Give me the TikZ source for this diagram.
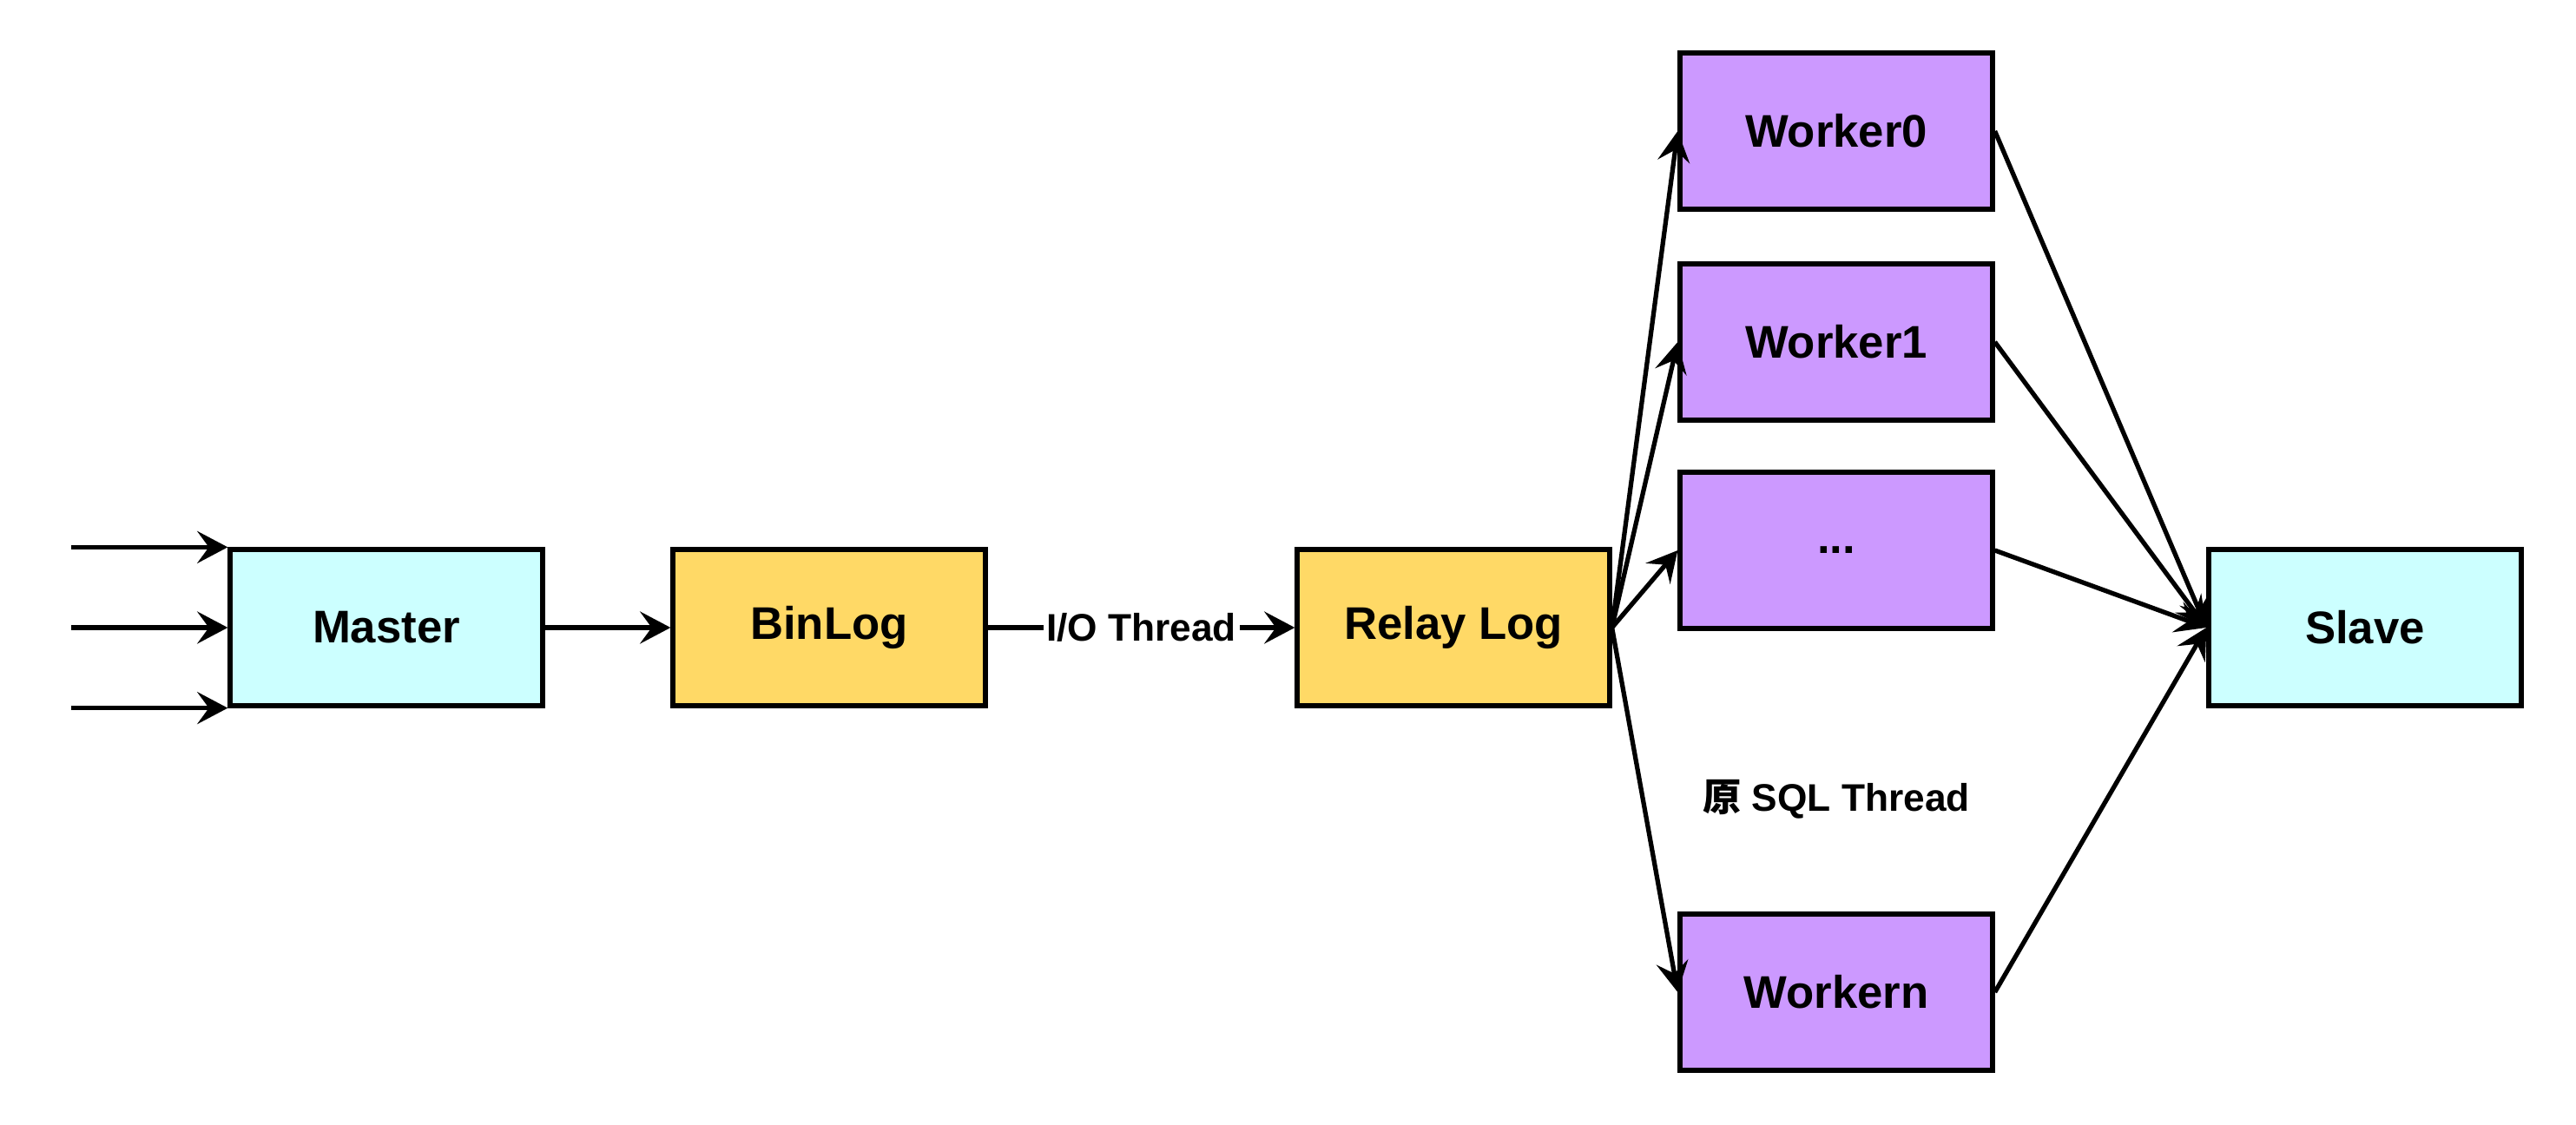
\documentclass[tikz,border=0pt]{standalone}
\usepackage{fontspec}
\setmainfont{Liberation Sans}
\newfontfamily\cjk{Noto Sans CJK SC}
\usetikzlibrary{arrows.meta}
\definecolor{masterblue}{HTML}{CCFFFF}
\definecolor{logyellow}{HTML}{FFD966}
\definecolor{workerpurple}{HTML}{CC99FF}
\begin{document}
\begin{tikzpicture}[
        box/.style={draw, line width=1.5pt, minimum width=3.6cm, minimum height=1.8cm,
            font=\fontsize{15}{18}\selectfont\bfseries},
        flow/.style={line width=1.5pt, -{Stealth[length=10pt, width=10.5pt, inset=3.8pt]}},
        lbl/.style={font=\fontsize{12.6}{15}\selectfont\bfseries}
    ]
        \useasboundingbox (0,0) rectangle (29.67,-12.96);
        \node[box, fill=masterblue] (master) at (4.45,-7.23) {Master};
        \node[box, fill=logyellow] (binlog) at (9.55,-7.23) {BinLog};
        \node[box, fill=logyellow] (relay) at (16.74,-7.23) {Relay Log};
        \node[box, fill=workerpurple] (w0) at (21.15,-1.51) {Worker0};
        \node[box, fill=workerpurple] (w1) at (21.15,-3.94) {Worker1};
        \node[box, fill=workerpurple] (wdots) at (21.15,-6.34) {...};
        \node[box, fill=workerpurple] (wn) at (21.15,-11.43) {Workern};
        \node[box, fill=masterblue] (slave) at (27.24,-7.23) {Slave};
        \node[lbl] (sql) at (21.15,-9.21) {{\cjk 原} SQL Thread};
        \path (master.north west) ++(-1.8,0) coordinate (in0);
        \path (master.west) ++(-1.8,0) coordinate (in1);
        \path (master.south west) ++(-1.8,0) coordinate (in2);
        \draw[flow] (in0) -- (master.north west);
        \draw[flow] (in1) -- (master.west);
        \draw[flow] (in2) -- (master.south west);
        \draw[flow] (master) -- (binlog);
        \draw[flow] (binlog) -- node[lbl, fill=white, inner sep=1pt] (io) {I/O Thread} (relay);
        \foreach \w in {w0, w1, wdots, wn} {
            \draw[flow] (relay.east) -- (\w.west);
            \draw[flow] (\w.east) -- (slave.west);
        }
    \end{tikzpicture}
\end{document}
